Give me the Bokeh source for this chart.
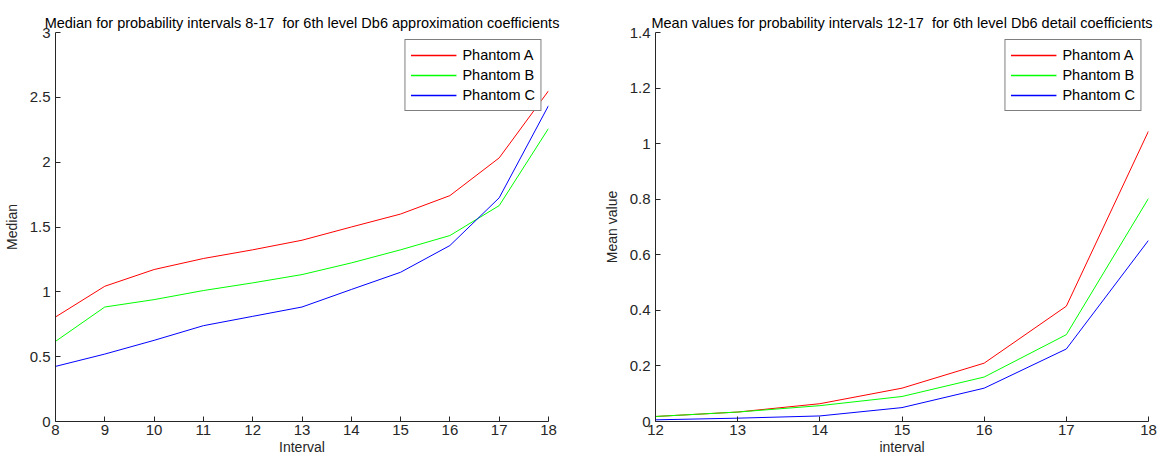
from bokeh.plotting import figure
from bokeh.layouts import row
from bokeh.models import Range1d, FixedTicker, CustomJSTickFormatter, Legend, LegendItem
from bokeh.embed import file_html
from bokeh.resources import INLINE

FONT = "Liberation Sans"

# Left chart: median values
x_left = [8, 9, 10, 11, 12, 13, 14, 15, 16, 17, 18]
med_a = [0.806, 1.043, 1.172, 1.257, 1.324, 1.398, 1.50, 1.60, 1.742, 2.033, 2.55]
med_b = [0.618, 0.883, 0.94, 1.01, 1.069, 1.133, 1.223, 1.324, 1.434, 1.665, 2.26]
med_c = [0.425, 0.52, 0.626, 0.739, 0.811, 0.883, 1.018, 1.151, 1.357, 1.725, 2.436]

# Right chart: mean values
x_right = [12, 13, 14, 15, 16, 17, 18]
mean_a = [0.018, 0.034, 0.064, 0.12, 0.21, 0.415, 1.045]
mean_b = [0.018, 0.034, 0.057, 0.09, 0.16, 0.3125, 0.803]
mean_c = [0.006, 0.012, 0.02, 0.05, 0.12, 0.261, 0.652]

labels = ["Phantom A", "Phantom B", "Phantom C"]
colors = ["#ff0000", "#00ff00", "#0000ff"]

fmt = CustomJSTickFormatter(code="return parseFloat(tick.toFixed(3)).toString();")


def make(title, xs, series, xr, yr, yticks, xlabel, ylabel, width, mbl, mbr):
    p = figure(width=width, height=464, output_backend="svg", toolbar_location=None,
               x_range=Range1d(*xr), y_range=Range1d(*yr),
               min_border_left=mbl, min_border_right=mbr,
               min_border_top=32, min_border_bottom=43)
    p.outline_line_color = None
    p.grid.visible = False
    p.title.text = title
    p.title.align = "center"
    p.title.text_font = FONT
    p.title.text_font_size = "14.5px"
    p.title.text_font_style = "normal"
    p.title.text_color = "#000000"
    p.title.offset = 0
    p.title.standoff = 3
    items = []
    for ys, lab, col in zip(series, labels, colors):
        p.line(xs, ys, line_color=col, line_width=1)
        key = p.line([float("nan")], [float("nan")], line_color=col, line_width=1.5)
        items.append(LegendItem(label=lab, renderers=[key]))
    leg = Legend(items=items, location="top_right")
    leg.border_line_color = "#000000"
    leg.border_line_width = 1
    leg.label_text_font = FONT
    leg.label_text_font_size = "14.5px"
    leg.label_text_color = "#000000"
    leg.glyph_width = 46
    leg.glyph_height = 20
    leg.label_height = 20
    leg.spacing = 0
    leg.padding = 5
    leg.margin = 7
    leg.label_standoff = 6
    leg.background_fill_alpha = 1
    p.add_layout(leg)

    p.xaxis.ticker = FixedTicker(ticks=list(range(xr[0], xr[1] + 1)))
    p.yaxis.ticker = FixedTicker(ticks=yticks)
    p.yaxis.formatter = fmt
    for ax in (p.xaxis[0], p.yaxis[0]):
        ax.axis_line_color = "#262626"
        ax.major_tick_line_color = "#262626"
        ax.major_tick_in = 5
        ax.major_tick_out = 0
        ax.minor_tick_line_color = None
        ax.major_label_text_font = FONT
        ax.major_label_text_font_size = "15px"
        ax.major_label_text_color = "#262626"
        ax.axis_label_text_font = FONT
        ax.axis_label_text_font_size = "14px"
        ax.axis_label_text_font_style = "normal"
        ax.axis_label_text_color = "#262626"
    p.xaxis.major_label_standoff = 3
    p.yaxis.major_label_standoff = 5
    p.xaxis.axis_label = xlabel
    p.yaxis.axis_label = ylabel
    p.xaxis.axis_label_standoff = 1
    p.yaxis.axis_label_standoff = 7
    return p


p1 = make("Median for probability intervals 8-17\u00a0 for 6th level Db6 approximation coefficients",
          x_left, [med_a, med_b, med_c], (8, 18), (0, 3),
          [0, 0.5, 1, 1.5, 2, 2.5, 3], "Interval", "Median", 600, 55, 52)
p2 = make("Mean values for probability intervals 12-17\u00a0 for 6th level Db6 detail coefficients",
          x_right, [mean_a, mean_b, mean_c], (12, 18), (0, 1.4),
          [0, 0.2, 0.4, 0.6, 0.8, 1.0, 1.2, 1.4], "interval", "Mean value", 565, 55, 17)

layout = row(p1, p2)
open("out.html", "w").write(file_html(layout, INLINE))
